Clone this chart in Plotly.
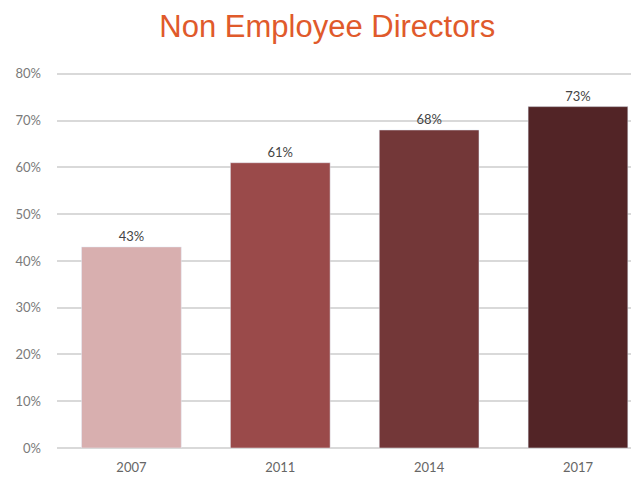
import plotly.graph_objects as go

years = ["2007", "2011", "2014", "2017"]
values = [43, 61, 68, 73]
labels = ["43%", "61%", "68%", "73%"]
colors = ["#D8AFAF", "#9A4A4A", "#733738", "#522426"]
y_ticks = [0, 10, 20, 30, 40, 50, 60, 70, 80]
y_tick_text = [f"{v}%" for v in y_ticks]

fig = go.Figure(go.Bar(
    x=years, y=values, marker_color=colors, width=0.67,
    text=labels, textposition="outside", cliponaxis=False,
    textfont=dict(family="Lato, sans-serif", size=13, color="#444444"),
))

fig.update_layout(
    width=631, height=469,
    margin=dict(l=49, r=0, t=64, b=29),
    paper_bgcolor="white", plot_bgcolor="white",
    title=dict(text="Non Employee Directors", x=0.506, xanchor="center", y=0.962, yanchor="middle",
               font=dict(family="Liberation Sans, Arial, sans-serif", size=31, color="#E05A2B")),
    showlegend=False,
    xaxis=dict(type="category", range=[-0.5, 3.41], showgrid=False, showline=False,
               tickfont=dict(family="Lato, sans-serif", size=13, color="#666666"), ticks="",
               ticklabelstandoff=10),
    yaxis=dict(range=[0, 80.4], tickvals=y_ticks, ticktext=y_tick_text, showgrid=True,
               gridcolor="#D9D9D9", gridwidth=1.5, zeroline=True, zerolinecolor="#D9D9D9", zerolinewidth=1.5,
               showline=False, ticks="", ticklabelstandoff=15,
               tickfont=dict(family="Lato, sans-serif", size=13, color="#7A7A7A")),
)

fig.write_html("out.html")
